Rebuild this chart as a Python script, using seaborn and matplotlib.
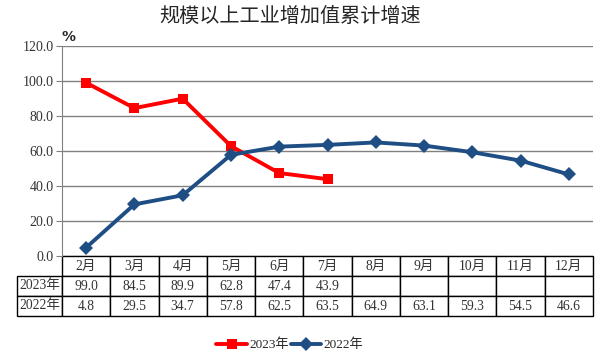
import matplotlib
matplotlib.use("Agg")
import matplotlib.pyplot as plt
import pandas as pd
import seaborn as sns

months = ["2月", "3月", "4月", "5月", "6月", "7月", "8月", "9月", "10月", "11月", "12月"]
growth_2023 = [99.0, 84.5, 89.9, 62.8, 47.4, 43.9]
growth_2022 = [4.8, 29.5, 34.7, 57.8, 62.5, 63.5, 64.9, 63.1, 59.3, 54.5, 46.6]
series_names = ["2023年", "2022年"]
yticks = [0, 20, 40, 60, 80, 100, 120]

sns.set_style("white")
FONT = ["Liberation Serif", "Noto Sans CJK SC"]
plt.rcParams["font.family"] = FONT

df = pd.concat([
    pd.DataFrame({"month": months[:len(growth_2023)], "value": growth_2023, "series": series_names[0]}),
    pd.DataFrame({"month": months, "value": growth_2022, "series": series_names[1]}),
])
df["month"] = pd.Categorical(df["month"], categories=months, ordered=True)
df["x"] = df["month"].cat.codes

fig = plt.figure(figsize=(6.04, 3.6), dpi=100)
W, H = 604, 360
ax = fig.add_axes([62 / W, 1 - 256 / H, (593 - 62) / W, 210 / H])

palette = {"2023年": "#FF0000", "2022年": "#1F4E85"}
markers = {"2023年": "s", "2022年": "D"}
sns.lineplot(data=df, x="x", y="value", hue="series", style="series", hue_order=series_names,
             palette=palette, markers=markers, dashes=False, linewidth=2.8,
             markersize=7.5, markeredgewidth=0, ax=ax, sort=False)

ax.set_xlim(-0.5, len(months) - 0.5)
ax.set_ylim(0, 120)
ax.set_yticks(yticks)
ax.set_yticklabels([f"{v:.1f}" for v in yticks], fontsize=10, color="#333333")
ax.set_xticks([])
ax.set_xlabel("")
ax.set_ylabel("")
ax.grid(axis="y", color="#808080", linewidth=1)
ax.set_axisbelow(True)
for s in ["top", "right", "bottom"]:
    ax.spines[s].set_visible(False)
ax.spines["left"].set_color("#808080")
ax.tick_params(axis="y", length=4, color="#808080", direction="out", left=True, pad=2)

ax.text(0.0, 1.01, "%", transform=ax.transAxes, fontsize=10, fontweight="bold",
        family="DejaVu Sans", ha="left", va="bottom")

# data table under the chart
cells = [[""] + months,
         [series_names[0]] + [f"{v:.1f}" for v in growth_2023] + [""] * (len(months) - len(growth_2023)),
         [series_names[1]] + [f"{v:.1f}" for v in growth_2022]]
tbl = ax.table(cellText=cells, cellLoc="center", colWidths=[45] + [48.3] * len(months),
               bbox=[(17 - 62) / 531, -60 / 210, (593 - 17) / 531, 60 / 210])
tbl.auto_set_font_size(False)
for (r, c), cell in tbl.get_celld().items():
    cell.set_linewidth(1.0)
    cell.set_edgecolor("black")
    cell.get_text().set_fontsize(9.8)
    cell.get_text().set_color("#333333")
    cell.get_text().set_fontfamily(FONT)
    if r == 0 and c == 0:
        cell.visible_edges = "B"
        cell.set_linewidth(0)

ax.legend_.remove()
handles, labels = ax.get_legend_handles_labels()
fig.legend(handles, labels, loc="center", bbox_to_anchor=(290 / W, 1 - 345 / H), ncol=2,
           frameon=False, fontsize=9.5, handlelength=2.3, handletextpad=0.2, columnspacing=0.15)

fig.text(290 / W, 1 - 16 / H, "规模以上工业增加值累计增速", ha="center", va="center",
         fontsize=14.5, family=["Noto Sans CJK SC"])

fig.savefig("out.png", dpi=100)
